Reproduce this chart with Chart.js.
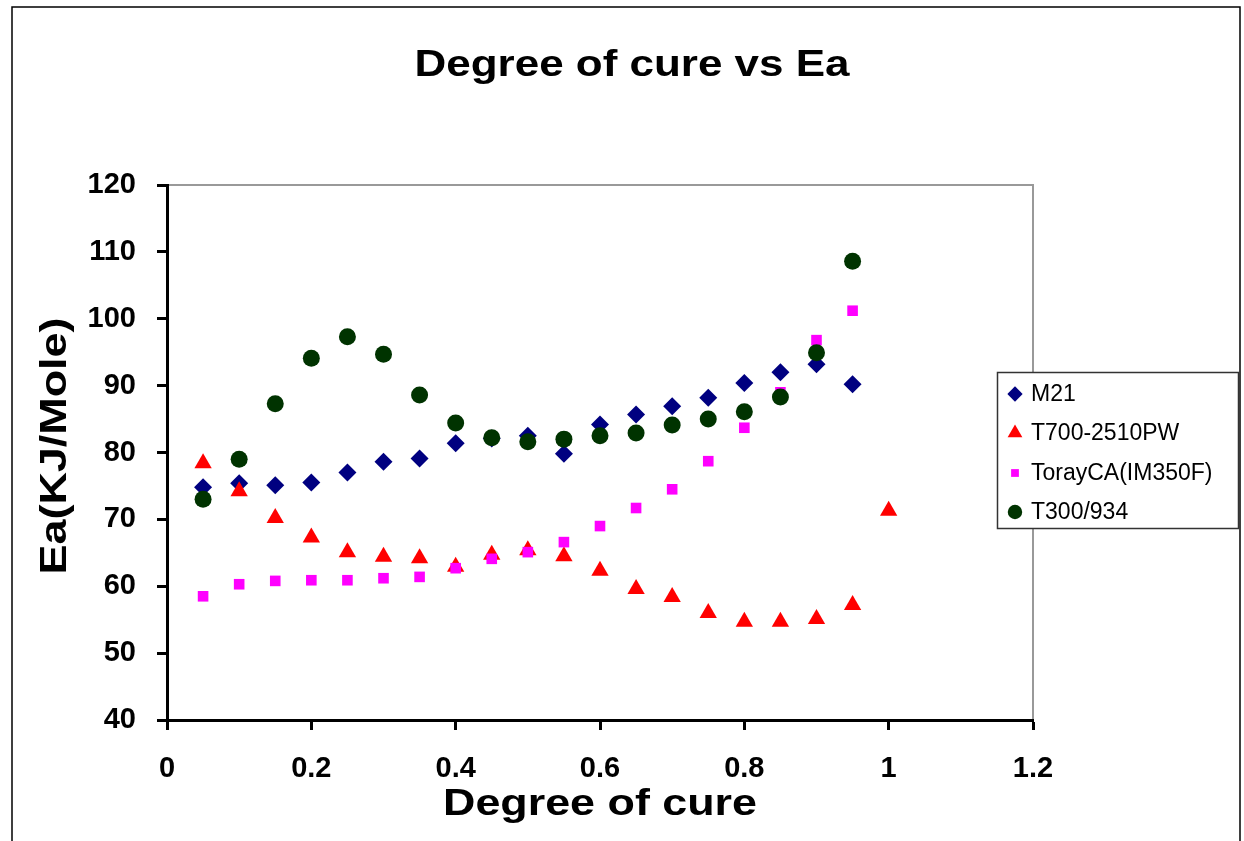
<!DOCTYPE html>
<html>
<head>
<meta charset="utf-8">
<script src="https://cdn.jsdelivr.net/npm/chart.js@4.4.1/dist/chart.umd.min.js"></script>
<style>
  html, body { margin: 0; padding: 0; background: #fff; }
  #wrap { width: 1244px; height: 841px; position: relative; }
</style>
</head>
<body>
<div id="wrap"><canvas id="c"></canvas></div>
<script>
// ---- data ----
const chartTitle = 'Degree of cure vs Ea';
const xTitle = 'Degree of cure';
const yTitle = 'Ea(KJ/Mole)';
const seriesNames = ['M21', 'T700-2510PW', 'TorayCA(IM350F)', 'T300/934'];
const cure = [0.05, 0.1, 0.15, 0.2, 0.25, 0.3, 0.35, 0.4, 0.45, 0.5, 0.55, 0.6, 0.65, 0.7, 0.75, 0.8, 0.85, 0.9, 0.95];
const cureT700 = [0.05, 0.1, 0.15, 0.2, 0.25, 0.3, 0.35, 0.4, 0.45, 0.5, 0.55, 0.6, 0.65, 0.7, 0.75, 0.8, 0.85, 0.9, 0.95, 1.0];
const m21 = [74.8, 75.4, 75.1, 75.5, 77.0, 78.6, 79.1, 81.4, 82.1, 82.5, 79.8, 84.2, 85.7, 86.9, 88.2, 90.4, 92.0, 93.2, 90.2];
const t700 = [78.4, 74.2, 70.2, 67.3, 65.1, 64.4, 64.2, 62.9, 64.7, 65.4, 64.5, 62.3, 59.6, 58.4, 56.0, 54.7, 54.7, 55.1, 57.2, 71.3];
const toray = [58.5, 60.3, 60.8, 60.9, 60.9, 61.2, 61.4, 62.7, 64.1, 65.1, 66.6, 69.0, 71.7, 74.5, 78.7, 83.7, 89.0, 96.8, 101.2];
const t300 = [73.0, 79.0, 87.3, 94.1, 97.3, 94.7, 88.6, 84.4, 82.2, 81.6, 82.0, 82.5, 82.9, 84.1, 85.0, 86.1, 88.3, 94.9, 108.6];
const xTickLabels = ['0', '0.2', '0.4', '0.6', '0.8', '1', '1.2'];
const yTickLabels = ['40', '50', '60', '70', '80', '90', '100', '110', '120'];

// ---- build ----
const pts = (xs, ys) => ys.map((v, i) => ({ x: xs[i], y: v }));
const styles = [
  { color: '#000080', pointStyle: 'rectRot', radius: 9, order: 4 },
  { color: '#FF0000', pointStyle: 'triangle', radius: 10, order: 3 },
  { color: '#FF00FF', pointStyle: 'rect', radius: 7.5, order: 2 },
  { color: '#003300', pointStyle: 'circle', radius: 8.5, order: 1 }
];
const seriesData = [pts(cure, m21), pts(cureT700, t700), pts(cure, toray), pts(cure, t300)];
const datasets = seriesData.map((d, i) => ({
  label: seriesNames[i],
  data: d,
  showLine: false,
  backgroundColor: styles[i].color,
  borderColor: styles[i].color,
  borderWidth: 0,
  pointStyle: styles[i].pointStyle,
  pointRadius: styles[i].radius,
  pointHoverRadius: styles[i].radius,
  order: styles[i].order
}));

const FONT = '"Liberation Sans", Arial, Helvetica, sans-serif';

function drawStretched(ctx, text, cx, baseY, font, targetW, rotate) {
  ctx.save();
  ctx.font = font;
  const w = ctx.measureText(text).width;
  const s = targetW / w;
  ctx.translate(cx, baseY);
  if (rotate) ctx.rotate(-Math.PI / 2);
  ctx.scale(s, 1);
  ctx.textAlign = 'center';
  ctx.textBaseline = 'alphabetic';
  ctx.fillStyle = '#000';
  ctx.fillText(text, 0, 0);
  ctx.restore();
}

const decor = {
  id: 'decor',
  beforeDraw(chart) {
    const ctx = chart.ctx;
    ctx.save();
    ctx.fillStyle = '#fff';
    ctx.fillRect(0, 0, chart.width, chart.height);
    // outer frame
    ctx.strokeStyle = '#000';
    ctx.lineWidth = 1.5;
    ctx.beginPath();
    ctx.moveTo(12, 841); ctx.lineTo(12, 7); ctx.lineTo(1240, 7); ctx.lineTo(1240, 841);
    ctx.stroke();
    // plot area gray top/right border
    const a = chart.chartArea;
    ctx.strokeStyle = '#999';
    ctx.lineWidth = 2;
    ctx.beginPath();
    ctx.moveTo(a.left, a.top); ctx.lineTo(a.right, a.top); ctx.lineTo(a.right, a.bottom);
    ctx.stroke();
    ctx.restore();
  },
  afterDraw(chart) {
    const ctx = chart.ctx;
    // titles
    drawStretched(ctx, chartTitle, 632, 76, 'bold 36px ' + FONT, 435, false);
    drawStretched(ctx, xTitle, 600, 815, 'bold 36px ' + FONT, 314, false);
    drawStretched(ctx, yTitle, 66, 446, 'bold 37px ' + FONT, 257, true);
    // legend
    ctx.save();
    ctx.fillStyle = '#fff';
    ctx.fillRect(997, 372, 241, 156);
    ctx.strokeStyle = '#333';
    ctx.lineWidth = 1.5;
    ctx.strokeRect(997.5, 372.5, 241, 156);
    const ys = [394, 433, 473, 512];
    chart.data.datasets.forEach((ds, i) => {
      ctx.fillStyle = ds.backgroundColor;
      ctx.strokeStyle = ds.borderColor;
      Chart.helpers.drawPoint(ctx, {
        pointStyle: ds.pointStyle,
        radius: i === 2 ? 5.5 : ds.pointRadius * 0.85,
        rotation: 0,
        borderWidth: 0
      }, 1015, ys[i]);
      ctx.fillStyle = '#000';
      ctx.font = '23px ' + FONT;
      ctx.textAlign = 'left';
      ctx.textBaseline = 'middle';
      ctx.fillText(ds.label, 1031, ys[i] + 1);
    });
    ctx.restore();
  }
};

new Chart(document.getElementById('c'), {
  type: 'scatter',
  data: { datasets },
  options: {
    responsive: true,
    maintainAspectRatio: false,
    animation: false,
    layout: { padding: { top: 185, right: 211, left: 0, bottom: 0 } },
    plugins: { legend: { display: false }, title: { display: false }, tooltip: { enabled: false } },
    scales: {
      x: {
        type: 'linear', min: 0, max: 1.2,
        afterFit(s) { s.height = 121; },
        afterBuildTicks(s) { s.ticks = xTickLabels.map(t => ({ value: parseFloat(t) })); },
        ticks: {
          autoSkip: false, maxRotation: 0, padding: 22,
          color: '#000', font: { family: FONT, size: 29, weight: 'bold' },
          callback: (v, i) => xTickLabels[i]
        },
        grid: { drawOnChartArea: false, drawTicks: true, tickLength: 10, tickColor: '#000', tickWidth: 3 },
        border: { display: true, color: '#000', width: 3 }
      },
      y: {
        type: 'linear', min: 40, max: 120,
        afterFit(s) { s.width = 167; },
        afterBuildTicks(s) { s.ticks = yTickLabels.map(t => ({ value: parseFloat(t) })); },
        ticks: {
          autoSkip: false, padding: 21,
          color: '#000', font: { family: FONT, size: 29, weight: 'bold' },
          callback: (v, i) => yTickLabels[i]
        },
        grid: { drawOnChartArea: false, drawTicks: true, tickLength: 10, tickColor: '#000', tickWidth: 3 },
        border: { display: true, color: '#000', width: 3 }
      }
    }
  },
  plugins: [decor]
});
</script>
</body>
</html>
